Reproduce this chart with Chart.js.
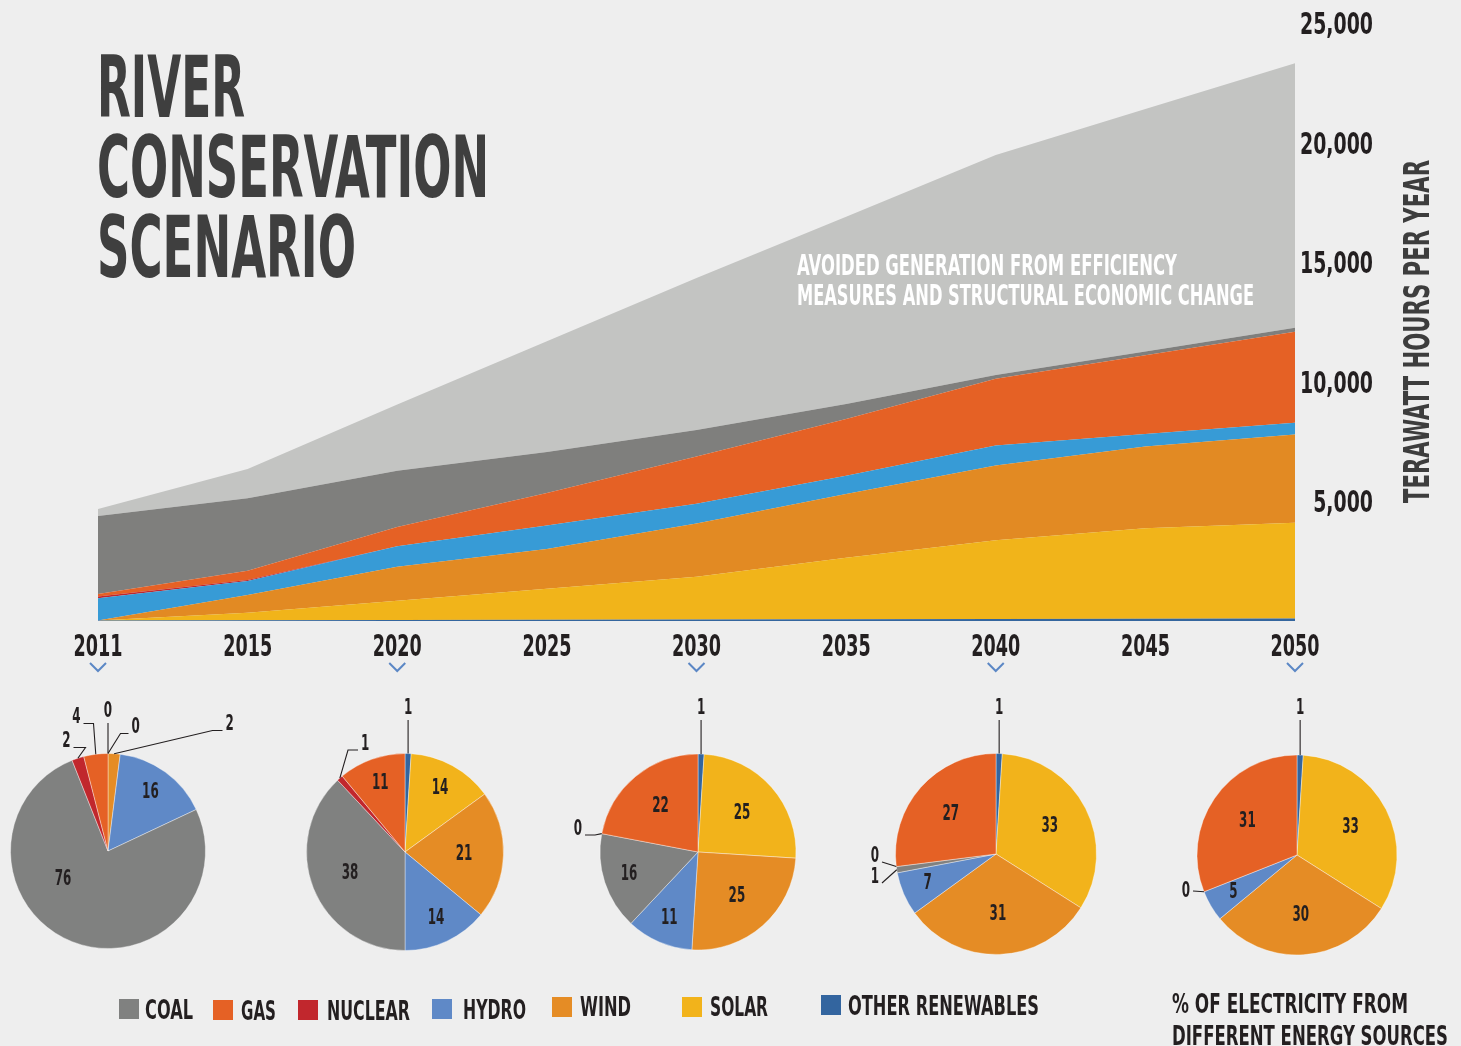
<!DOCTYPE html>
<html>
<head>
<meta charset="utf-8">
<title>River Conservation Scenario</title>
<script src="https://cdn.jsdelivr.net/npm/chart.js@4.4.0/dist/chart.umd.min.js"></script>
<style>
  html, body { margin: 0; padding: 0; background: #eeeeee; }
  #wrap { position: relative; width: 1461px; height: 1046px; overflow: hidden; background: #eeeeee; }
  #wrap canvas { position: absolute; }
</style>
</head>
<body>
<div id="wrap">
  <canvas id="mainChart" width="1461" height="1046" style="left:0;top:0;"></canvas>
</div>
<script>
// ---------------------------------------------
// Datos (TWh por año)
// ---------------------------------------------
const years = ['2011', '2015', '2020', '2025', '2030', '2035', '2040', '2045', '2050'];

const otherTWh   = [20, 30, 40, 50, 60, 70, 80, 90, 100];
const solarTWh   = [0, 320, 810, 1300, 1790, 2570, 3300, 3785, 4010];
const windTWh    = [0, 740, 1420, 1660, 2230, 2670, 3120, 3415, 3690];
const hydroTWh   = [930, 580, 860, 980, 820, 760, 840, 530, 490];
const nuclearTWh = [70, 40, 0, 0, 0, 0, 0, 0, 0];
const gasTWh     = [110, 390, 800, 1360, 1980, 2370, 2790, 3290, 3800];
const coalTWh    = [3260, 3030, 2350, 1710, 1100, 630, 150, 160, 170];
const avoidedTWh = [292, 1224, 2770, 4640, 6360, 7830, 9200, 10130, 11060];

const yTicks = [0, 5000, 10000, 15000, 20000, 25000];

// Porcentajes de los pasteles (orden horario desde arriba)
const pieYears  = ['2011', '2020', '2030', '2040', '2050'];
const pieOrder  = ['OTHER RENEWABLES', 'SOLAR', 'WIND', 'HYDRO', 'COAL', 'NUCLEAR', 'GAS'];
const share2011 = [0, 0, 2, 16, 76, 2, 4];
const share2020 = [1, 14, 21, 14, 38, 1, 11];
const share2030 = [1, 25, 25, 11, 16, 0, 22];
const share2040 = [1, 33, 31, 7, 1, 0, 27];
const share2050 = [1, 33, 30, 5, 0, 0, 31];

const legendNames = ['COAL', 'GAS', 'NUCLEAR', 'HYDRO', 'WIND', 'SOLAR', 'OTHER RENEWABLES'];

// ---------------------------------------------
// Estilos
// ---------------------------------------------
const FONT = "'Liberation Sans Narrow', 'DejaVu Sans Condensed', 'Liberation Sans', sans-serif";
const INK = '#231f20';

const areaColors = {
  other: '#34669e', solar: '#f1b41a', wind: '#e28a23', hydro: '#379bd6',
  nuclear: '#c1272d', gas: '#e56125', coal: '#7f7f7d', avoided: '#c3c4c2'
};
// mismo orden que pieOrder
const pieColors = ['#33659f', '#f2b31b', '#e58c25', '#5f89c7', '#808180', '#c1272d', '#e56125'];
// mismo orden que legendNames
const legendColors = ['#808180', '#e56125', '#c1272d', '#5f89c7', '#e58c25', '#f2b31b', '#33659f'];

// Posiciones de texto / leyenda
const titleLines = ['RIVER', 'CONSERVATION', 'SCENARIO'];
const titleBase  = [117, 197, 277];
const titleW     = [148, 392, 259];
const legendBoxX = [119, 213, 298, 432, 552, 682, 821];
const legendBoxY = [999, 1000, 1000, 999, 997, 997, 995];
const legendTxtX = [145, 241, 327, 463, 580, 710, 848];
const legendTxtW = [48, 35, 83, 63, 51, 58, 191];
const legendBase = [1019, 1020, 1020, 1019, 1016, 1016, 1015];
const chevronYears = ['2011', '2020', '2030', '2040', '2050'];

// Pasteles: centro y radio
const pieGeom = [
  { cx: 107.5, cy: 850.5, r: 97.5 },
  { cx: 405,   cy: 852,   r: 98.5 },
  { cx: 698,   cy: 852,   r: 98 },
  { cx: 996,   cy: 854,   r: 100.5 },
  { cx: 1297,  cy: 855,   r: 100 }
];
// Etiquetas con línea guía (por índice de porción)
const pieLeaders = [
  { 0: { dir: 0, y: -128 }, 1: { dir: 1, x: 12.5, y: -117.5, len: 8 }, 2: { dir: 1, x: 104.5, y: -120.5, len: 10 },
    5: { dir: -1, x: -22.5, y: -103.5, len: 12 }, 6: { dir: -1, x: -14.5, y: -127.5, len: 10 } },
  { 0: { dir: 0, y: -132 }, 5: { dir: 1, x: -57, y: -102, len: 10 } },
  { 0: { dir: 0, y: -132 }, 5: { dir: -1, x: -103, y: -17, len: 10 } },
  { 0: { dir: 0, y: -134 }, 4: { dir: -1, x: -114, y: 29, len: 0 }, 5: { dir: -1, x: -114, y: 8, len: 0 } },
  { 0: { dir: 0, y: -135 }, 4: { dir: -1, x: -104, y: 36, len: 0, ly: 0 } }
];
const pieNudge = [{ 4: [-45, 28] }, {}, {}, {}, {}];

// ---------------------------------------------
// Helpers de texto (fuente condensada simulada con escala horizontal)
// ---------------------------------------------
function fitText(ctx, text, x, y, w, font, color) {
  ctx.save();
  ctx.font = font;
  ctx.fillStyle = color;
  ctx.textAlign = 'left';
  ctx.textBaseline = 'alphabetic';
  const nat = ctx.measureText(text).width;
  ctx.translate(x, y);
  ctx.scale(w / nat, 1);
  ctx.fillText(text, 0, 0);
  ctx.restore();
}

function scaledText(ctx, t, x, y, align, sx, baseline) {
  ctx.save();
  ctx.translate(x, y);
  ctx.scale(sx, 1);
  ctx.textAlign = align;
  ctx.textBaseline = baseline || 'middle';
  ctx.fillText(t, 0, 0);
  ctx.restore();
}

// ---------------------------------------------
// Gráfico de áreas
// ---------------------------------------------
const decorPlugin = {
  id: 'decor',
  afterDraw(chart) {
    const ctx = chart.ctx;
    const xs = chart.scales.x;
    const ys = chart.scales.y;

    // Etiquetas de los ejes (desde los ticks de Chart.js)
    ctx.save();
    ctx.fillStyle = INK;
    ctx.font = 'bold 30px ' + FONT;
    const sxX = 49 / ctx.measureText('2011').width;
    xs.ticks.forEach((t, i) => {
      scaledText(ctx, xs.getLabelForValue(t.value), xs.getPixelForTick(i), 656, 'center', sxX, 'alphabetic');
    });
    const sxY = 73 / ctx.measureText('25,000').width;
    ys.ticks.forEach(t => {
      if (t.value === 0) return;
      scaledText(ctx, t.value.toLocaleString('en-US'), 1373, ys.getPixelForValue(t.value) + 11, 'right', sxY, 'alphabetic');
    });
    ctx.restore();

    // Título
    titleLines.forEach((t, i) => fitText(ctx, t, 97, titleBase[i], titleW[i], 'bold 85px ' + FONT, '#3f3f3f'));

    // Nota dentro del área gris
    fitText(ctx, 'AVOIDED GENERATION FROM EFFICIENCY', 797, 275, 380, 'bold 28px ' + FONT, '#ffffff');
    fitText(ctx, 'MEASURES AND STRUCTURAL ECONOMIC CHANGE', 797, 305, 457, 'bold 28px ' + FONT, '#ffffff');

    // Título del eje vertical
    ctx.save();
    ctx.translate(1429, 503);
    ctx.rotate(-Math.PI / 2);
    fitText(ctx, 'TERAWATT HOURS PER YEAR', 0, 0, 343, 'bold 35px ' + FONT, '#3d3d3d');
    ctx.restore();

    // Flechitas bajo los años con pastel
    ctx.save();
    ctx.strokeStyle = '#5b87c5';
    ctx.lineWidth = 2;
    chevronYears.forEach(y => {
      const px = xs.getPixelForValue(years.indexOf(y));
      ctx.beginPath();
      ctx.moveTo(px - 8, 663);
      ctx.lineTo(px, 671);
      ctx.lineTo(px + 8, 663);
      ctx.stroke();
    });
    ctx.restore();

    // Leyenda
    legendNames.forEach((name, i) => {
      ctx.fillStyle = legendColors[i];
      ctx.fillRect(legendBoxX[i], legendBoxY[i], 20, 20);
      fitText(ctx, name, legendTxtX[i], legendBase[i], legendTxtW[i], 'bold 27px ' + FONT, INK);
    });

    // Nota al pie
    fitText(ctx, '% OF ELECTRICITY FROM', 1172, 1013, 236, 'bold 27px ' + FONT, INK);
    fitText(ctx, 'DIFFERENT ENERGY SOURCES', 1172, 1045, 276, 'bold 27px ' + FONT, INK);
  }
};

function areaSet(label, data, color, fill) {
  return { label, data, backgroundColor: color, borderColor: color, borderWidth: 0, fill, pointRadius: 0, tension: 0 };
}

const mainChart = new Chart(document.getElementById('mainChart'), {
  type: 'line',
  data: {
    labels: years,
    datasets: [
      areaSet('Other renewables', otherTWh, areaColors.other, 'origin'),
      areaSet('Solar', solarTWh, areaColors.solar, '-1'),
      areaSet('Wind', windTWh, areaColors.wind, '-1'),
      areaSet('Hydro', hydroTWh, areaColors.hydro, '-1'),
      areaSet('Nuclear', nuclearTWh, areaColors.nuclear, '-1'),
      areaSet('Gas', gasTWh, areaColors.gas, '-1'),
      areaSet('Coal', coalTWh, areaColors.coal, '-1'),
      areaSet('Avoided', avoidedTWh, areaColors.avoided, '-1')
    ]
  },
  options: {
    responsive: false,
    animation: false,
    layout: { padding: { top: 23, left: 98, right: 88, bottom: 356 } },
    plugins: { legend: { display: false }, tooltip: { enabled: false } },
    scales: {
      x: {
        type: 'category',
        offset: false,
        grid: { display: false, drawTicks: false },
        border: { display: false },
        ticks: { display: false, autoSkip: false, maxRotation: 0 },
        afterFit: s => { s.height = 69; }
      },
      y: {
        position: 'right',
        stacked: true,
        min: yTicks[0],
        max: yTicks[yTicks.length - 1],
        grid: { display: false, drawTicks: false },
        border: { display: false },
        afterBuildTicks: s => { s.ticks = yTicks.map(v => ({ value: v })); },
        ticks: { display: false },
        afterFit: s => { s.width = 78; }
      }
    }
  },
  plugins: [decorPlugin]
});

// ---------------------------------------------
// Pasteles
// ---------------------------------------------
function makePieLabels(k) {
  return {
    id: 'pieLabels' + k,
    afterDatasetsDraw(chart) {
      const ctx = chart.ctx;
      const values = chart.data.datasets[0].data;
      const arcs = chart.getDatasetMeta(0).data;
      const lead = pieLeaders[k];
      ctx.save();
      ctx.strokeStyle = INK;
      ctx.fillStyle = INK;
      ctx.lineWidth = 1.1;
      ctx.font = 'bold 22px ' + FONT;
      const sx = 8.3 / ctx.measureText('0').width;
      arcs.forEach((arc, i) => {
        const v = values[i];
        const mid = (arc.startAngle + arc.endAngle) / 2;
        const r = arc.outerRadius;
        if (v >= 5) {
          const off = pieNudge[k][i];
          let lx, ly;
          if (off) { lx = arc.x + off[0]; ly = arc.y + off[1]; }
          else {
            const f = v < 20 ? 0.74 : 0.6;
            lx = arc.x + Math.cos(mid) * r * f;
            ly = arc.y + Math.sin(mid) * r * f;
          }
          scaledText(ctx, String(v), lx, ly, 'center', sx);
        } else if (lead[i]) {
          const L = lead[i];
          const ex = arc.x + Math.cos(mid) * r;
          const ey = arc.y + Math.sin(mid) * r;
          ctx.beginPath();
          ctx.moveTo(ex, ey);
          if (L.dir === 0) {
            const ty = arc.y + L.y;
            ctx.lineTo(ex, ty);
            ctx.stroke();
            scaledText(ctx, String(v), ex, ty - 12, 'center', sx);
          } else {
            const bx = arc.x + L.x, by = arc.y + L.y;
            const endX = bx + L.dir * (L.len || 0);
            ctx.lineTo(bx, by);
            ctx.lineTo(endX, by);
            ctx.stroke();
            const dy = (L.ly !== undefined) ? L.ly : -6;
            scaledText(ctx, String(v), endX + L.dir * 3, by + dy, L.dir > 0 ? 'left' : 'right', sx);
          }
        }
      });
      ctx.restore();
    }
  };
}

const shares = [share2011, share2020, share2030, share2040, share2050];
const wrap = document.getElementById('wrap');
const pies = pieYears.map((yr, k) => {
  const g = pieGeom[k];
  const cv = document.createElement('canvas');
  cv.width = 320;
  cv.height = 320;
  cv.style.left = (g.cx - 160) + 'px';
  cv.style.top = (g.cy - 160) + 'px';
  wrap.appendChild(cv);
  return new Chart(cv, {
    type: 'pie',
    data: {
      labels: pieOrder,
      datasets: [{
        data: shares[k],
        backgroundColor: pieColors,
        borderColor: 'rgba(255,255,255,0.55)',
        borderWidth: 0.7
      }]
    },
    options: {
      responsive: false,
      animation: false,
      radius: g.r,
      layout: { padding: 0 },
      plugins: { legend: { display: false }, tooltip: { enabled: false } }
    },
    plugins: [makePieLabels(k)]
  });
});
</script>
</body>
</html>
